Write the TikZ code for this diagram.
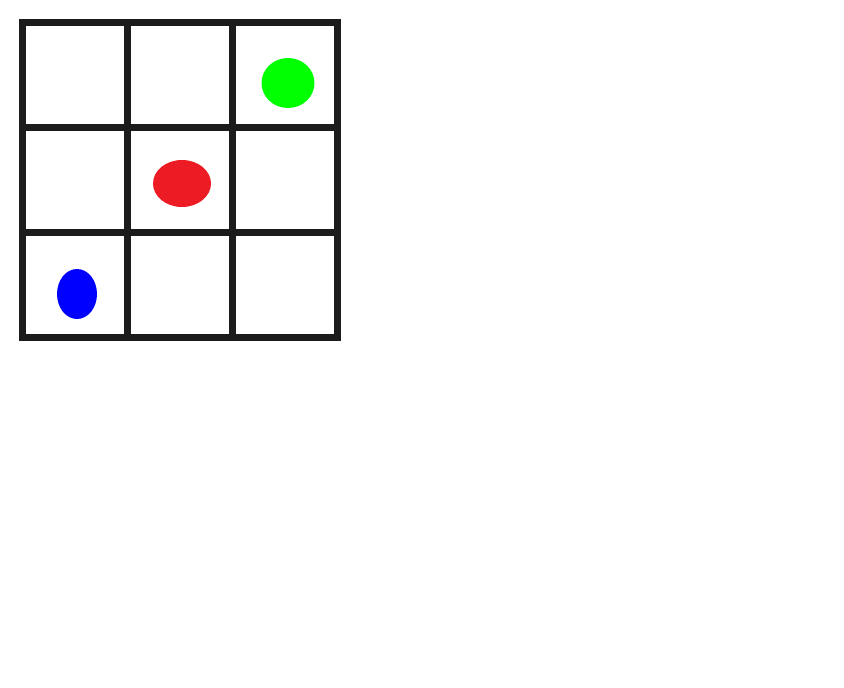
\documentclass[tikz,border=0pt]{standalone}
\definecolor{gridc}{HTML}{1C1C1C}
\definecolor{redc}{HTML}{ED1C24}
\definecolor{greenc}{HTML}{00FF00}
\definecolor{bluec}{HTML}{0000FF}
\tikzset{gridline/.style={draw=gridc,line width=7pt,line cap=rect}}
\begin{document}
\begin{tikzpicture}[x=1pt,y=-1pt]
\useasboundingbox (0,0) rectangle (844,688);
\fill[white] (0,0) rectangle (844,688);
\foreach \v in {22.5,127.5,232.5,337.5} {
  \draw[gridline] (\v,22.5) -- (\v,337.5);
  \draw[gridline] (22.5,\v) -- (337.5,\v);
}
\fill[greenc] (288,83) ellipse [x radius=26.5pt, y radius=25pt];
\fill[redc] (182,183.5) ellipse [x radius=29pt, y radius=23.5pt];
\fill[bluec] (77,294) ellipse [x radius=20pt, y radius=25pt];
\end{tikzpicture}
\end{document}
